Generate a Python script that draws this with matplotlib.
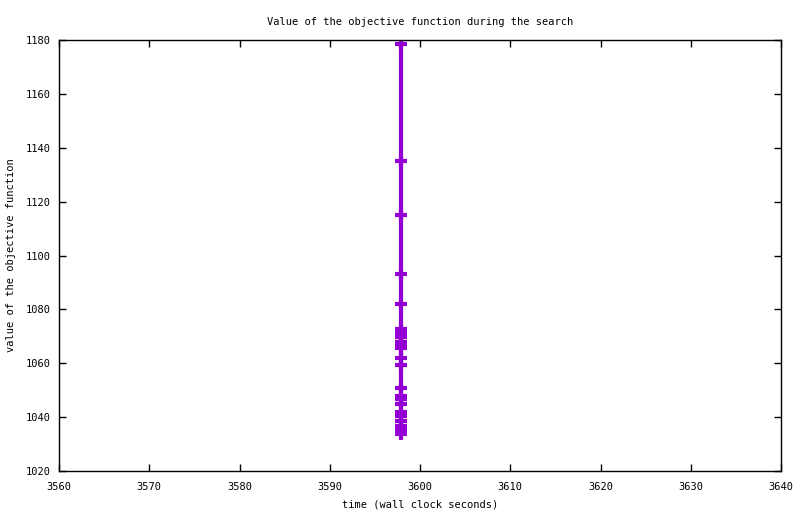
import matplotlib
matplotlib.use("Agg")
from matplotlib import pyplot as plt

# objective value vs wall clock time
values = [1178.5, 1135.1, 1115.0, 1093.1, 1082.0,
          1072.8, 1071.2, 1069.6, 1068.0, 1066.5, 1065.7,
          1061.9, 1059.2, 1050.8, 1047.8, 1046.7, 1045.0,
          1041.9, 1040.4, 1038.7, 1036.7, 1035.2, 1033.7]
times = [3597.9] * len(values)

x_ticks = list(range(3560, 3641, 10))
y_ticks = list(range(1020, 1181, 20))

plt.rcParams['font.family'] = ['DejaVu Sans Mono']
plt.rcParams['font.size'] = 7

fig = plt.figure(figsize=(8.0, 5.14), dpi=100)
ax = fig.add_axes([59 / 800, 43 / 514, 722 / 800, 431 / 514])

ax.plot(times, values, color='#9400D3', linewidth=3.0, marker='+',
        markersize=8, markeredgewidth=3.0, solid_capstyle='butt')

ax.set_xlim(3560, 3640)
ax.set_ylim(1020, 1180)
ax.set_xticks(x_ticks)
ax.set_yticks(y_ticks)
ax.tick_params(direction='in', length=5, width=1, top=True, right=True,
               labelsize=7.5)
ax.tick_params(axis='x', pad=8)
ax.tick_params(axis='y', pad=6)
for s in ax.spines.values():
    s.set_linewidth(1)

ax.set_title('Value of the objective function during the search', fontsize=7.5, pad=11)
ax.set_xlabel('time (wall clock seconds)', fontsize=7.5, labelpad=5)
ax.set_ylabel('value of the objective function', fontsize=7.5, labelpad=7)

fig.savefig('out.png', dpi=100)
